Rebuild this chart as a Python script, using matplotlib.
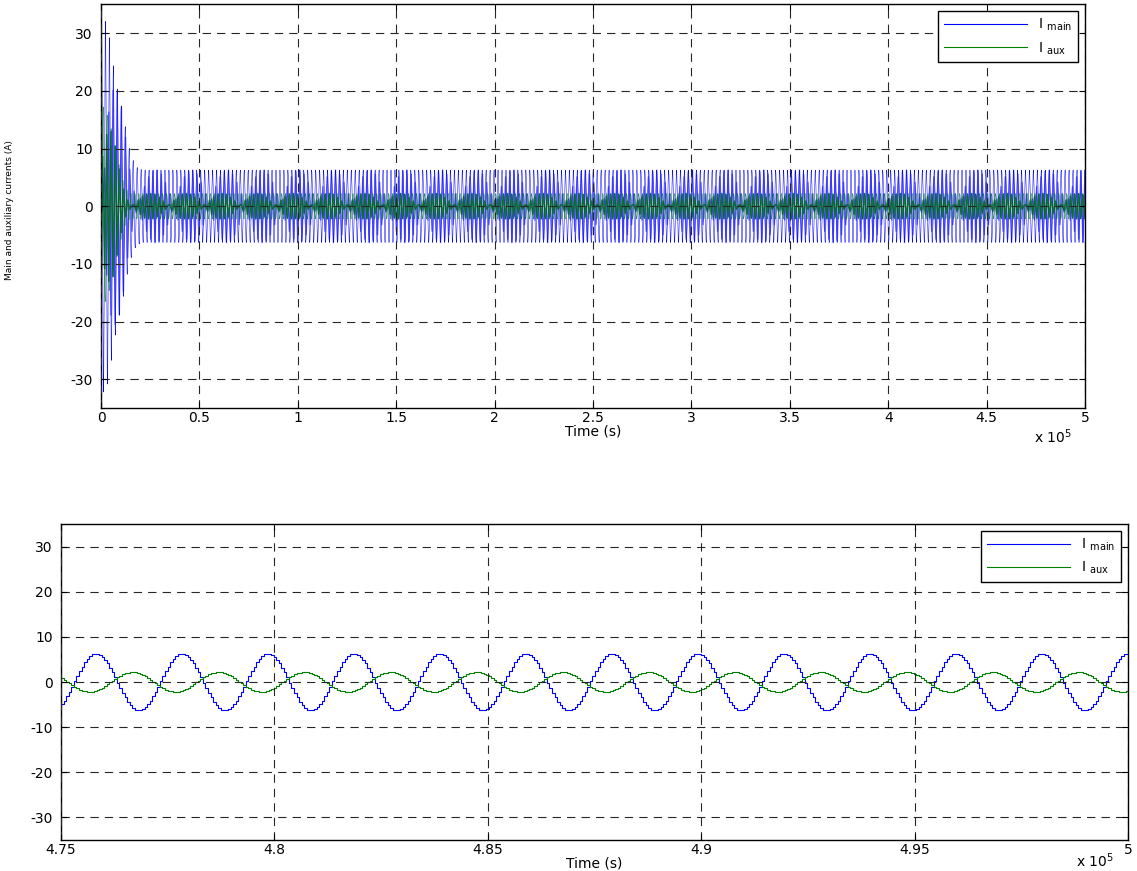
import numpy as np
import matplotlib
matplotlib.use("Agg")
import matplotlib.pyplot as plt
from matplotlib.ticker import FuncFormatter

# values
period = 2015.0          # s, one cycle of both currents
steps_per_period = 34    # staircase steps per cycle (simulation output)
t_end = 5.0e5
peak_main = 475800.0     # s, a positive peak of I_main in the zoomed window
peak_aux = 476650.0      # s, a positive peak of I_aux

# transient envelope (time s, amplitude A)
env_main_t = [0, 2000, 4000, 6000, 8500, 10000, 12000, 14000, 16000, 18000, 21000, 500000]
env_main_a = [32, 32.5, 30, 25, 20, 18, 14.5, 10.5, 8.2, 6.8, 6.3, 6.3]
env_aux_t = [0, 3000, 6000, 8000, 10000, 12000, 14000, 16000, 500000]
env_aux_a = [18, 16, 12.5, 9, 6, 3.5, 2.4, 2.2, 2.2]

yticks = [-30, -20, -10, 0, 10, 20, 30]
xticks_top = np.arange(0, 5.01e5, 0.5e5)
xticks_bot = np.arange(4.75e5, 5.001e5, 0.05e5)

# the long view is drawn from every 18th stored sample (as the scope did)
decim, decim_start = 18, 13

dt = period / steps_per_period
t = np.arange(0, t_end + dt, dt)
i_main = np.interp(t, env_main_t, env_main_a) * np.cos(2 * np.pi * (t - peak_main) / period)
i_aux = np.interp(t, env_aux_t, env_aux_a) * np.cos(2 * np.pi * (t - peak_aux) / period)

plt.rcParams['font.family'] = ['DejaVu Sans']
plt.rcParams['axes.unicode_minus'] = False

BLUE = (0, 0, 1)
GREEN = (0, 0.5, 0)

fig = plt.figure(figsize=(11.37, 8.71), dpi=100)
W, H = 1137.0, 871.0
ax1 = fig.add_axes([101 / W, 1 - 408 / H, 984 / W, 403.5 / H])
ax2 = fig.add_axes([61 / W, 1 - 840 / H, 1067 / W, 316 / H])

# top: whole run
td, md, ad = t[decim_start::decim], i_main[decim_start::decim], i_aux[decim_start::decim]
ax1.plot(t, i_main, color=BLUE, lw=0.35, label=r'I $_{\rm main}$')
ax1.plot(td, md, color=BLUE, lw=1.0, alpha=0.55)
ax1.plot(t, i_aux, color=GREEN, lw=0.35, label=r'I $_{\rm aux}$')
ax1.plot(td, ad, color=(0, 0.4, 0.15), lw=1.2, alpha=0.85)

# bottom: last part of the run
m = t >= 4.74e5
ax2.plot(t[m], i_main[m], color=BLUE, lw=0.8, drawstyle='steps-post', label=r'I $_{\rm main}$')
ax2.plot(t[m], i_aux[m], color=GREEN, lw=0.8, drawstyle='steps-post', label=r'I $_{\rm aux}$')

fmt = FuncFormatter(lambda v, p: f'{v / 1e5:g}')

for ax, lo, hi, xt in [(ax1, 0, 5e5, xticks_top), (ax2, 4.75e5, 5e5, xticks_bot)]:
    ax.set_xlim(lo, hi)
    ax.set_ylim(-35, 35)
    ax.set_xticks(xt)
    ax.xaxis.set_major_formatter(fmt)
    ax.set_yticks(yticks)
    ax.grid(True, color='0.15', linestyle=(0, (7.5, 5.5)), linewidth=0.8)
    ax.set_axisbelow(False)
    ax.tick_params(direction='in', top=True, right=True, length=4, labelsize=10)
    ax.tick_params(axis='x', pad=2)
    ax.tick_params(axis='y', pad=6)
    ax.set_xlabel('Time (s)', fontsize=10, labelpad=0)
    for s in ax.spines.values():
        s.set_linewidth(1.0)
    leg = ax.legend(loc='upper right', fontsize=10, handlelength=6, frameon=True,
                    fancybox=False, borderaxespad=0.5, framealpha=1)
    leg.get_frame().set_edgecolor('black')
    leg.get_frame().set_linewidth(1.0)
    for ln in leg.get_lines():
        ln.set_linewidth(0.8)

ax1.set_ylabel('Main and auxiliary currents (A)', fontsize=6.5)
ax1.yaxis.set_label_coords(-87 / 984, 0.49)

fig.text(1053 / W, 1 - 437 / H, r'x 10$^5$', fontsize=10, ha='center', va='center')
fig.text(1095 / W, 1 - 861 / H, r'x 10$^5$', fontsize=10, ha='center', va='center')

fig.savefig('out.png', dpi=100)
